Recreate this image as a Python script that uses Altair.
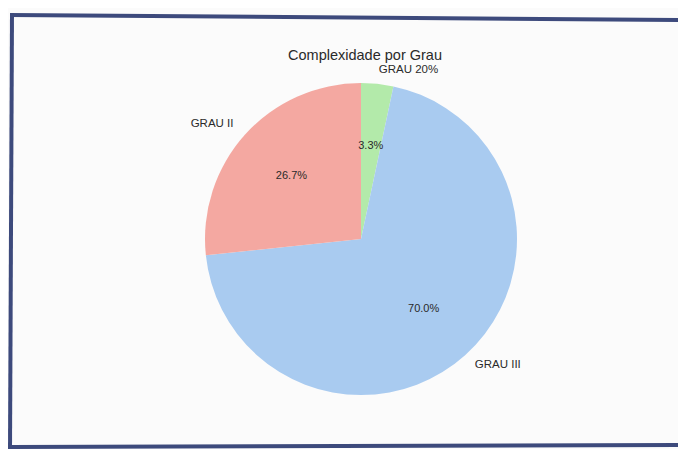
import altair as alt
import pandas as pd

# Slices listed clockwise from 12 o'clock (as they appear)
categories = ["GRAU 20%", "GRAU III", "GRAU II"]
values = [1, 21, 8]
colors = ["#b3eaaa", "#a9cbf0", "#f4a8a1"]
title_text = "Complexidade por Grau"

df = pd.DataFrame({"category": categories, "value": values, "order": list(range(len(categories)))})
TOTAL = float(sum(values))
theta_scale = alt.Scale(domain=[0, TOTAL], range=[0, 6.283185307179586])

CX, CY = 353, 231
R = 156
FONT = "Liberation Sans"
TXT = "#2a2a2a"

base = alt.Chart(df).transform_joinaggregate(
    total="sum(value)"
).transform_window(
    cum="sum(value)", sort=[alt.SortField("order")], frame=[None, 0]
).transform_calculate(
    start="datum.cum - datum.value",
    end="datum.cum",
    mid="datum.cum - datum.value / 2",
    pct="format(datum.value / datum.total * 100, '.1f') + '%'",
)

arcs = base.mark_arc(outerRadius=R).encode(
    theta=alt.Theta("start:Q", scale=theta_scale, stack=False),
    theta2="end:Q",
    color=alt.Color("category:N", scale=alt.Scale(domain=categories, range=colors), legend=None),
    x=alt.value(CX),
    y=alt.value(CY),
)

pct_text = base.mark_text(radius=R * 0.6, font=FONT, fontSize=11, color=TXT, align="center", baseline="middle").encode(
    theta=alt.Theta("mid:Q", scale=theta_scale, stack=False),
    text="pct:N",
    x=alt.value(CX),
    y=alt.value(CY),
)

lab_right = base.transform_filter("datum.mid < datum.total / 2").mark_text(
    radius=R * 1.09, font=FONT, fontSize=11.5, color=TXT, align="left", baseline="middle"
).encode(
    theta=alt.Theta("mid:Q", scale=theta_scale, stack=False),
    text="category:N",
    x=alt.value(CX),
    y=alt.value(CY),
)

lab_left = base.transform_filter("datum.mid >= datum.total / 2").mark_text(
    radius=R * 1.1, font=FONT, fontSize=11.5, color=TXT, align="right", baseline="middle"
).encode(
    theta=alt.Theta("mid:Q", scale=theta_scale, stack=False),
    text="category:N",
    x=alt.value(CX),
    y=alt.value(CY),
)

title = alt.Chart(pd.DataFrame({"t": [title_text]})).mark_text(
    font=FONT, fontSize=14.5, color=TXT, align="center", baseline="middle"
).encode(text="t:N", x=alt.value(357), y=alt.value(48))

BORDER = "#3d4a7c"
border_df = pd.DataFrame({"k": [0]})
top = alt.Chart(border_df).mark_rule(color=BORDER, strokeWidth=4).encode(
    x=alt.value(2), x2=alt.value(680), y=alt.value(7), y2=alt.value(12))
left = alt.Chart(border_df).mark_rule(color=BORDER, strokeWidth=4).encode(
    x=alt.value(4), x2=alt.value(2), y=alt.value(5), y2=alt.value(441))
bottom = alt.Chart(border_df).mark_rule(color=BORDER, strokeWidth=4).encode(
    x=alt.value(2), x2=alt.value(680), y=alt.value(439), y2=alt.value(437))

chart = alt.layer(arcs, pct_text, lab_right, lab_left, title, top, left, bottom).properties(
    width=670, height=441, autosize=alt.AutoSizeParams(type="none"), padding=0,
    background="#fbfbfb",
).configure_view(stroke=None)

chart.save("out.html", embed_options={"renderer": "svg", "actions": False})
